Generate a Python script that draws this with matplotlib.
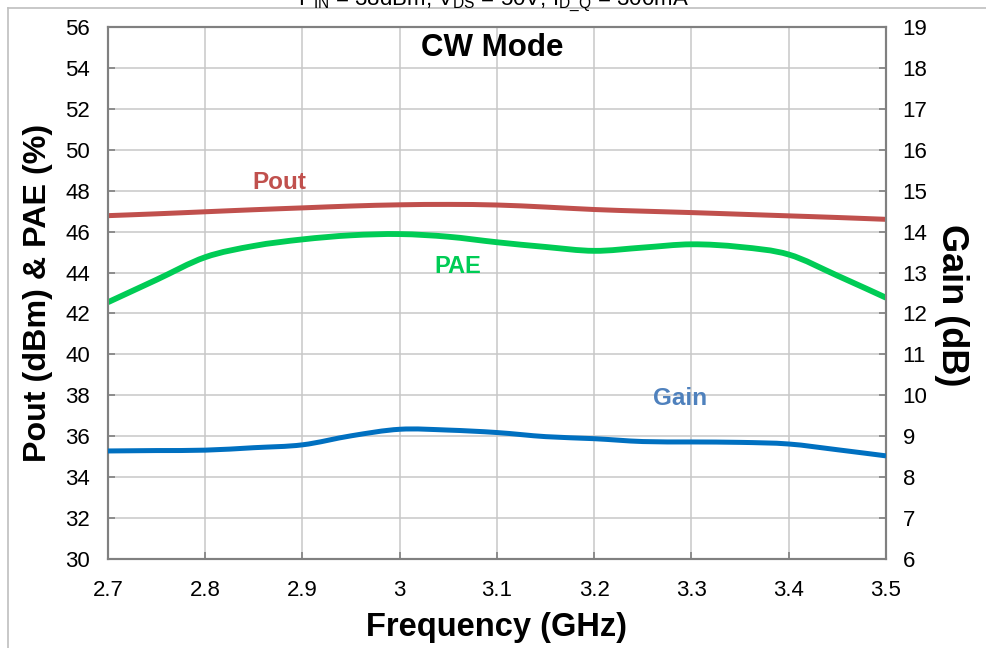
import matplotlib
matplotlib.use('Agg')
import matplotlib.pyplot as plt
import numpy as np
from matplotlib.lines import Line2D
from matplotlib.path import Path
from matplotlib.patches import PathPatch

plt.rcParams['font.family'] = ['Liberation Sans', 'DejaVu Sans']
plt.rcParams['mathtext.fontset'] = 'custom'
plt.rcParams['mathtext.rm'] = 'Liberation Sans'
plt.rcParams['mathtext.it'] = 'Liberation Sans'

freq = [2.70, 2.75, 2.80, 2.85, 2.90, 2.95, 3.00, 3.05, 3.10, 3.15,
        3.20, 3.25, 3.30, 3.35, 3.40, 3.45, 3.50]
pout = [46.78, 46.87, 46.97, 47.07, 47.16, 47.25, 47.31, 47.33, 47.30, 47.20,
        47.08, 47.00, 46.93, 46.85, 46.77, 46.69, 46.60]
pae = [42.55, 43.65, 44.75, 45.30, 45.62, 45.82, 45.88, 45.75, 45.48, 45.25,
       45.06, 45.22, 45.38, 45.25, 44.88, 43.85, 42.77]
gain = [8.64, 8.65, 8.66, 8.72, 8.79, 9.01, 9.17, 9.15, 9.09, 8.99,
        8.94, 8.87, 8.86, 8.85, 8.81, 8.67, 8.52]

x_ticks = [2.7, 2.8, 2.9, 3.0, 3.1, 3.2, 3.3, 3.4, 3.5]
x_ticklabels = ['2.7', '2.8', '2.9', '3', '3.1', '3.2', '3.3', '3.4', '3.5']

c_pout = '#C0504D'
c_pae = '#00CC55'
c_gain = '#0070C0'
c_gain_txt = '#4F81BD'
spine_c = '#808080'


def smooth_line(a, xs, ys, color, lw):
    # excel-style smoothed line: bezier segments through the data points
    p = np.column_stack([xs, ys]).astype(float)
    n = len(p)
    verts = [p[0]]
    codes = [Path.MOVETO]
    for i in range(n - 1):
        p0 = p[i - 1] if i > 0 else p[i]
        p3 = p[i + 2] if i + 2 < n else p[i + 1]
        c1 = p[i] + (p[i + 1] - p0) / 6
        c2 = p[i + 1] - (p3 - p[i]) / 6
        verts += [c1, c2, p[i + 1]]
        codes += [Path.CURVE4] * 3
    a.add_patch(PathPatch(Path(verts, codes), fill=False, edgecolor=color,
                          lw=lw, capstyle='butt', zorder=3))


fig = plt.figure(figsize=(9.87, 6.48), dpi=100)
ax = fig.add_axes([108/987, 1 - 559/648, (886-108)/987, (559-27)/648])
ax2 = ax.twinx()

smooth_line(ax, freq, pout, c_pout, 3.6)
smooth_line(ax, freq, pae, c_pae, 4.2)
smooth_line(ax2, freq, gain, c_gain, 3.6)

ax.set_xlim(2.7, 3.5)
ax.set_ylim(30, 56)
ax2.set_ylim(6, 19)
ax.set_xticks(x_ticks)
ax.set_xticklabels(x_ticklabels)
ax.set_yticks(range(30, 57, 2))
ax2.set_yticks(range(6, 20))

ax.grid(True, color='#C8C8C8', lw=1.1)
ax.set_axisbelow(True)

for a in (ax, ax2):
    for s in a.spines.values():
        s.set_color(spine_c)
        s.set_linewidth(1.5)

ax.tick_params(axis='both', direction='in', length=5, width=1.2, color=spine_c,
               labelsize=16, labelcolor='black')
ax.tick_params(axis='y', pad=13)
ax.tick_params(axis='x', pad=15)
ax2.tick_params(axis='y', direction='in', length=5, width=1.2, color=spine_c,
                labelsize=16, pad=12, labelcolor='black')

ax.set_xlabel('Frequency (GHz)', fontsize=23.5, fontweight='bold', labelpad=8)
ax.set_ylabel('Pout (dBm) & PAE (%)', fontsize=23.2, fontweight='bold', labelpad=9)
ax2.set_ylabel('Gain (dB)', fontsize=26, fontweight='bold', rotation=270, labelpad=30)
ax2.yaxis.label.set_y(0.477)

ax.text(3.095, 54.95, 'CW Mode', fontsize=22.5, fontweight='bold', ha='center', va='center')
ax.text(2.876, 48.4, 'Pout', fontsize=17.5, fontweight='bold', color=c_pout,
        ha='center', va='center')
ax.text(3.06, 44.3, 'PAE', fontsize=17, fontweight='bold', color=c_pae,
        ha='center', va='center')
ax.text(3.288, 37.85, 'Gain', fontsize=17.5, fontweight='bold', color=c_gain_txt,
        ha='center', va='center')

fig.text(0.5, 1 - 1/648, r'P$_{IN}$ = 38dBm, V$_{DS}$ = 50V, I$_{D\_Q}$ = 300mA',
         fontsize=16, ha='center', va='center')

fig.add_artist(Line2D([8/987, 8/987], [0, 1 - 8/648], transform=fig.transFigure,
                      color='#BFBFBF', lw=1.2))
fig.add_artist(Line2D([8/987, 1], [1 - 8/648, 1 - 8/648], transform=fig.transFigure,
                      color='#BFBFBF', lw=1.2))

fig.savefig('out.png', dpi=100)
